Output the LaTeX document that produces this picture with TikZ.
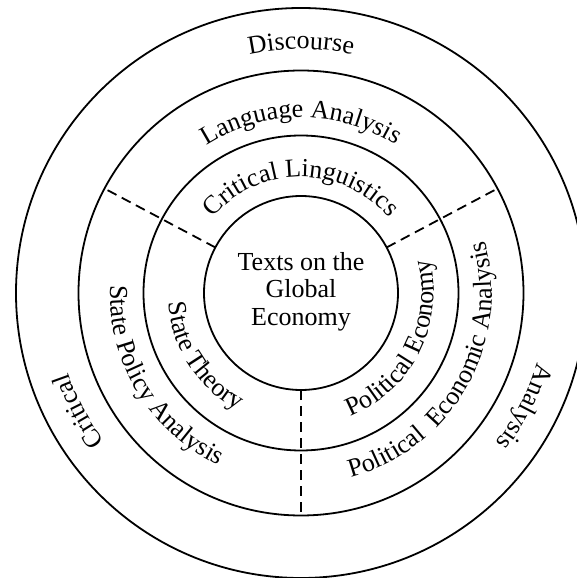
\documentclass[tikz,border=0pt]{standalone}
\usepackage{fontspec}
\setmainfont{Liberation Serif}
\usetikzlibrary{decorations.text}
\newcommand\lblfont{\fontsize{26pt}{27.5pt}\selectfont}
\begin{document}
\begin{tikzpicture}[x=1pt,y=1pt,
  ring/.style={circle, draw, line width=1.8pt, inner sep=0pt, outer sep=0pt},
  divider/.style={line width=1.8pt, dash pattern=on 10pt off 6pt},
  arclabel/.style={decorate, decoration={text along path, text align=center, text={|\lblfont|#1}}}]
\useasboundingbox (-301,-285) rectangle (276,293);
\fill[white] (-301,-285) rectangle (276,293);
\clip (-301,-285) rectangle (276,293);
% rings
\node[ring, minimum size=570pt] (outer) at (0,0) {};
\node[ring, minimum size=445pt] (mid) at (0,0) {};
\node[ring, minimum size=315pt] (inner) at (0,0) {};
\node[ring, minimum size=194pt] (core) at (0,0) {};
% dividers
\draw[divider] (core.28) -- (mid.28);
\draw[divider] (core.152) -- (mid.152);
\draw[divider] (core.270) -- (mid.270);
% centre text
\node[font=\lblfont, align=center, inner sep=0pt] (title) at (0,1.5) {Texts on the\\Global\\Economy};
% outer ring labels
\path[arclabel={Discourse}] (130:244) arc[start angle=130, end angle=50, radius=244];
\path[arclabel={Critical}] (238:246) arc[start angle=238, end angle=178, radius=246];
\path[arclabel={Analysis}] (363:246) arc[start angle=363, end angle=303, radius=246];
% middle ring labels
\path[arclabel={Language Analysis}] (150:175.5) arc[start angle=150, end angle=30, radius=175.5];
\path[arclabel={State Policy Analysis}] (161:191) arc[start angle=161, end angle=261, radius=191];
\path[arclabel={Political\ \ Economic Analysis}] (270.5:191) arc[start angle=270.5, end angle=390.5, radius=191];
% inner ring labels
\path[arclabel={Critical Linguistics}] (160:116) arc[start angle=160, end angle=20, radius=116];
\path[arclabel={State Theory}] (168:133) arc[start angle=168, end angle=258, radius=133];
\path[arclabel={Political Economy}] (273.5:133) arc[start angle=273.5, end angle=393.5, radius=133];
\end{tikzpicture}
\end{document}
